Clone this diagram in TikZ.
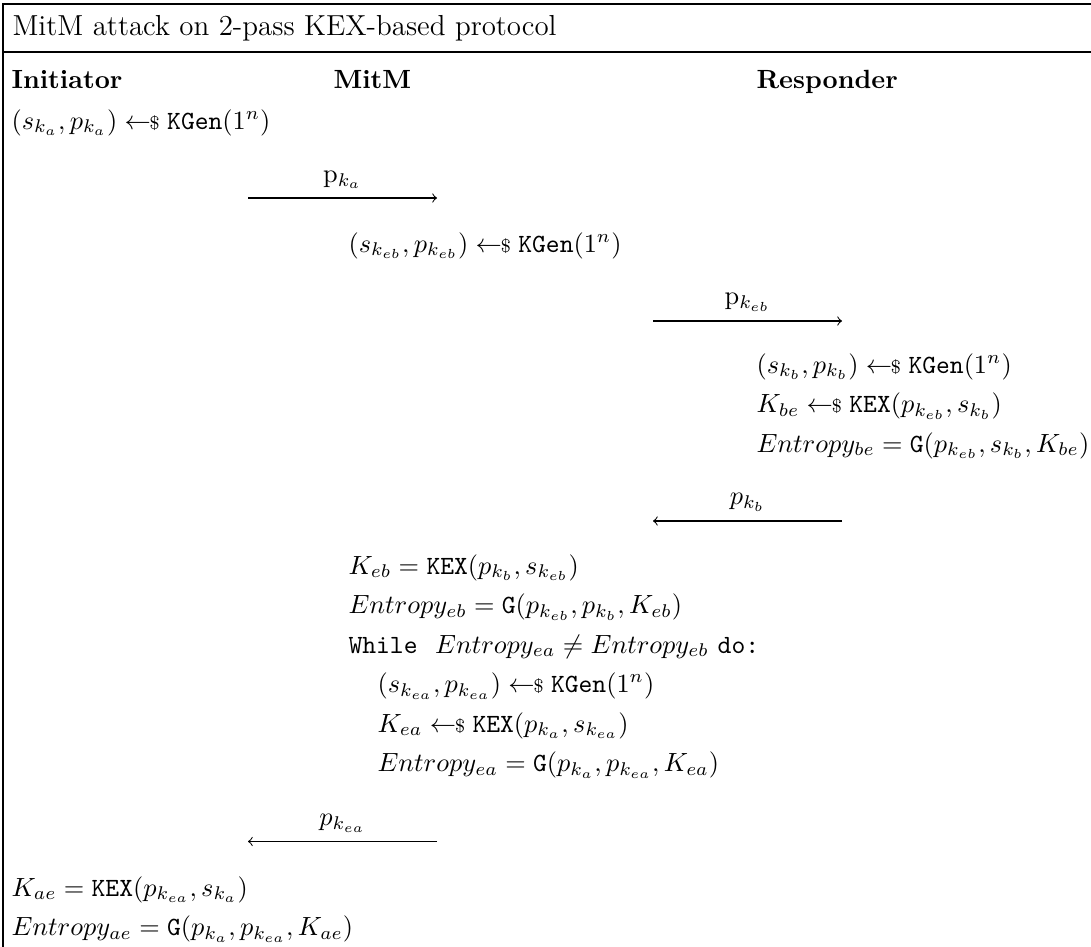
\documentclass[tikz,border=0pt]{standalone}
\usepackage{amsmath, amssymb}
\usetikzlibrary{arrows}
\newcommand{\algo}[1]{\mathtt{#1}}
\newcommand{\KGen}{\algo{KGen}}
\newcommand{\KEX}{\algo{KEX}}
\newcommand{\Gfn}{\algo{G}}
\newcommand{\smp}{\mathrel{\leftarrow\!\!\mbox{\scriptsize\$}}}

\begin{document}
\begin{tikzpicture}[x=0.380pt, y=-0.380pt,
  txt/.style={anchor=base west, inner sep=0pt}]
  \useasboundingbox (0,0) rectangle (1091,947);
  % frame
  \draw [line width=0.6pt] (3,947) -- (3,4) -- (1091,4);
  \draw [line width=1.1pt] (3,52) -- (1091,52);
  \node (title) [txt] at (12,35)
    {\fontsize{11}{13.6}\selectfont MitM attack on 2-pass KEX-based protocol};
  % parties
  \node (ini) [txt] at (11,89) {\textbf{Initiator}};
  \node (mitm) [txt] at (333,89) {\textbf{MitM}};
  \node (resp) [txt] at (756,89) {\textbf{Responder}};
  % initiator
  \node (1) [txt] at (11,129)
    {\( (s_{k_a}, p_{k_a}) \smp \KGen(1^n) \)};
  \coordinate (a1) at (248,198);
  \coordinate (b1) at (437,198);
  \draw [->] (a1) to node [above]
    {\( \mathrm{p}_{k_a} \)} (b1);
  % mitm
  \node (2) [txt] at (348,252)
    {\( (s_{k_{eb}}, p_{k_{eb}}) \smp \KGen(1^n) \)};
  \coordinate (a2) at (653,321);
  \coordinate (b2) at (842,321);
  \draw [->] (a2) to node [above]
    {\( \mathrm{p}_{k_{eb}} \)} (b2);
  % responder
  \node (3) [txt] at (756,373)
    {\( (s_{k_b}, p_{k_b}) \smp \KGen(1^n) \)};
  \node (4) [txt] at (756,412.5)
    {\( K_{be} \smp \KEX(p_{k_{eb}}, s_{k_b}) \)};
  \node (5) [txt] at (756,452)
    {\( Entropy_{be} = \Gfn(p_{k_{eb}}, s_{k_b}, K_{be}) \)};
  \coordinate (a3) at (842,521);
  \coordinate (b3) at (653,521);
  \draw [->] (a3) to node [above]
    {\( p_{k_b} \)} (b3);
  % mitm
  \node (6) [txt] at (348,574)
    {\( K_{eb} = \KEX(p_{k_b}, s_{k_{eb}}) \)};
  \node (7) [txt] at (348,613.5)
    {\( Entropy_{eb} = \Gfn(p_{k_{eb}}, p_{k_b}, K_{eb}) \)};
  \node (8) [txt] at (348,653)
    {\texttt{While}\ \ \( Entropy_{ea} \neq Entropy_{eb} \) \texttt{do:}};
  \node (9) [txt] at (377,692.5)
    {\( (s_{k_{ea}}, p_{k_{ea}}) \smp \KGen(1^n) \)};
  \node (10) [txt] at (377,732)
    {\( K_{ea} \smp \KEX(p_{k_a}, s_{k_{ea}}) \)};
  \node (11) [txt] at (377,771.5)
    {\( Entropy_{ea} = \Gfn(p_{k_a}, p_{k_{ea}}, K_{ea}) \)};
  \coordinate (a4) at (437,841.5);
  \coordinate (b4) at (248,841.5);
  \draw [->] (a4) to node [above]
    {\( p_{k_{ea}} \)} (b4);
  % initiator
  \node (12) [txt] at (11,896)
    {\( K_{ae} = \KEX(p_{k_{ea}}, s_{k_a}) \)};
  \node (13) [txt] at (11,935.5)
    {\( Entropy_{ae} = \Gfn(p_{k_a}, p_{k_{ea}}, K_{ae}) \)};
\end{tikzpicture}
\end{document}
